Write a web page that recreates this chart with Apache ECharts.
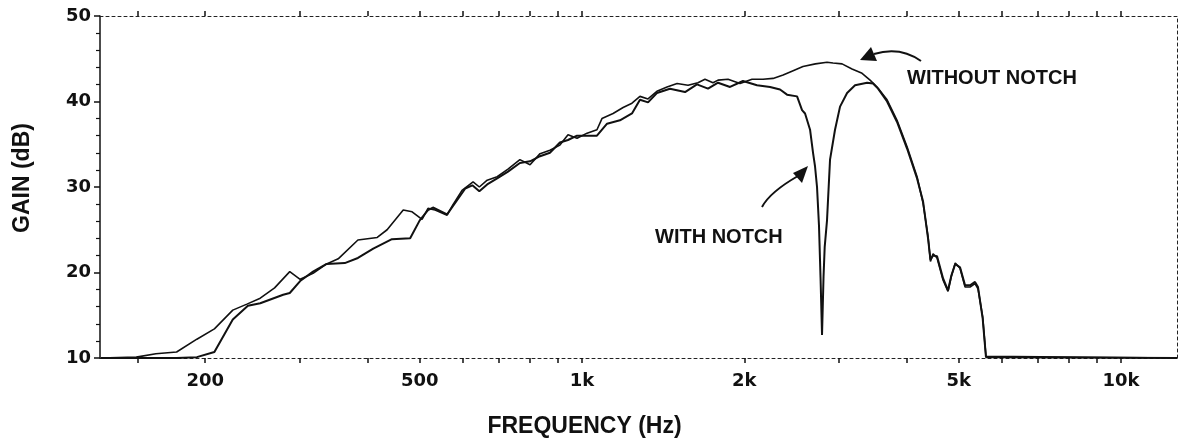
<!DOCTYPE html>
<html>
<head>
<meta charset="utf-8">
<script src="https://cdn.jsdelivr.net/npm/echarts@6/dist/echarts.min.js"></script>
<style>
html, body { margin: 0; padding: 0; background: #fff; }
#chart { width: 1178px; height: 441px; }
</style>
</head>
<body>
<div id="chart"></div>
<script>
// response: frequency (Hz) / gain (dB)
var freqWithout = [128, 149, 162, 177, 193, 208, 225, 239, 253, 269, 287, 300, 317, 336, 353, 384, 417, 435, 466, 484,
    505, 518, 534, 562, 576, 599, 628, 645, 667, 696, 729, 767, 801, 836, 872, 910, 942, 979, 1022, 1066,
    1089, 1142, 1192, 1238, 1281, 1326, 1377, 1438, 1501, 1573, 1641, 1691, 1750, 1788, 1866, 1964, 2067, 2167, 2262, 2361,
    2464, 2570, 2710, 2848, 2922, 3037, 3169, 3308, 3423, 3527, 3681, 3841, 4009, 4184, 4293, 4385, 4430, 4480, 4557, 4676,
    4775, 4842, 4925, 5027, 5136, 5247, 5359, 5428, 5538, 5616, 12700];
var gainWithout = [10.0, 10.1, 10.5, 10.7, 12.2, 13.4, 15.6, 16.3, 17.0, 18.2, 20.1, 19.2, 19.9, 21.0, 21.6, 23.8, 24.1, 25.0, 27.3, 27.1,
    26.2, 27.5, 27.3, 26.7, 27.9, 29.6, 30.6, 30.0, 30.8, 31.2, 32.1, 33.2, 32.6, 33.9, 34.3, 34.9, 36.1, 35.7, 36.3, 36.7,
    38.0, 38.6, 39.3, 39.8, 40.6, 40.3, 41.2, 41.7, 42.1, 41.9, 42.2, 42.6, 42.2, 42.5, 42.6, 42.1, 42.6, 42.6, 42.7, 43.1,
    43.6, 44.1, 44.4, 44.6, 44.5, 44.4, 43.8, 43.3, 42.5, 41.7, 40.2, 37.8, 34.7, 31.2, 28.1, 24.2, 21.3, 22.2, 21.7, 19.1,
    17.8, 19.5, 21.1, 20.5, 18.3, 18.3, 18.7, 18.1, 14.8, 10.2, 10.0];

var freqWith = [128, 177, 193, 208, 225, 240, 253, 279, 287, 300, 317, 336, 363, 384, 410, 444, 480, 500, 518, 529,
    562, 607, 626, 645, 667, 696, 729, 767, 801, 836, 872, 910, 942, 979, 1022, 1066, 1113, 1176, 1238, 1281,
    1326, 1377, 1456, 1553, 1634, 1713, 1788, 1882, 1989, 2112, 2233, 2330, 2401, 2506, 2560, 2593, 2649, 2683, 2706, 2729,
    2752, 2770, 2788, 2806, 2820, 2848, 2885, 2947, 3011, 3103, 3210, 3380, 3467, 3542, 3681, 3841, 4009, 4184, 4293, 4385,
    4430, 4480, 4557, 4676, 4775, 4842, 4925, 5027, 5136, 5247, 5359, 5428, 5538, 5616, 12700];
var gainWith = [10.0, 10.0, 10.1, 10.7, 14.5, 16.1, 16.4, 17.4, 17.6, 19.0, 20.1, 21.0, 21.1, 21.7, 22.8, 23.9, 24.0, 26.1, 27.3, 27.6,
    26.8, 29.8, 30.2, 29.5, 30.3, 31.0, 31.8, 32.8, 33.0, 33.6, 34.0, 35.2, 35.5, 36.0, 36.0, 36.0, 37.4, 37.8, 38.6, 40.2,
    39.9, 41.0, 41.5, 41.1, 42.0, 41.5, 42.2, 41.7, 42.4, 41.9, 41.7, 41.4, 40.8, 40.6, 39.0, 38.6, 36.7, 34.0, 32.4, 30.0,
    25.5, 19.5, 12.7, 19.5, 23.0, 26.1, 33.2, 36.7, 39.4, 41.0, 41.9, 42.2, 42.1, 41.5, 40.0, 37.6, 34.5, 31.0, 28.3, 24.0,
    21.5, 22.0, 21.9, 19.3, 17.9, 19.6, 21.0, 20.6, 18.5, 18.5, 18.9, 18.3, 14.6, 10.1, 10.0];

var tickFreqs = [150, 200, 300, 400, 500, 600, 700, 800, 900, 1000, 2000, 3000, 4000, 5000, 6000, 7000, 8000, 9000, 10000];
var labelFreqs = [200, 500, 1000, 2000, 5000, 10000];
var freqMin = 127.6, freqMax = 12700;
var gainMin = 10, gainMax = 50, gainStep = 10;

function zip(xs, ys) {
    return xs.map(function (x, i) { return [x, ys[i]]; });
}

var chart = echarts.init(document.getElementById('chart'));
var dashed = { color: '#222', width: 1, type: [3, 3] };

var option = {
    animation: false,
    grid: { left: 100, right: 1, top: 16, bottom: 83, outerBoundsMode: 'none' },
    xAxis: [{
        type: 'log',
        logBase: 10,
        min: freqMin,
        max: freqMax,
        position: 'bottom',
        name: 'FREQUENCY (Hz)',
        nameLocation: 'middle',
        nameGap: 57,
        nameTextStyle: { fontFamily: 'Liberation Sans', fontWeight: 'bold', fontSize: 23, color: '#111', padding: [0, 108, 0, 0] },
        axisLine: { lineStyle: dashed },
        axisTick: { show: true, inside: false, length: 5, customValues: tickFreqs, lineStyle: { color: '#111', width: 1.5 } },
        minorTick: { show: false },
        axisLabel: {
            customValues: labelFreqs,
            margin: 14,
            fontFamily: 'DejaVu Sans', fontWeight: 'bold', fontSize: 18, color: '#111',
            formatter: function (v) { return v >= 1000 ? (v / 1000) + 'k' : String(v); }
        },
        splitLine: { show: false }
    }, {
        type: 'log',
        logBase: 10,
        min: freqMin,
        max: freqMax,
        position: 'top',
        axisLine: { lineStyle: dashed },
        axisTick: { show: true, inside: false, length: 5, customValues: tickFreqs, lineStyle: { color: '#111', width: 1.5 } },
        axisLabel: { show: false },
        splitLine: { show: false }
    }],
    yAxis: [{
        type: 'value',
        min: gainMin,
        max: gainMax,
        interval: gainStep,
        position: 'left',
        name: 'GAIN (dB)',
        nameLocation: 'middle',
        nameGap: 66,
        nameTextStyle: { fontFamily: 'Liberation Sans', fontWeight: 'bold', fontSize: 23, color: '#111', padding: [0, 0, 0, 18] },
        axisLine: { show: true, lineStyle: { color: '#111', width: 1.5 } },
        axisTick: { show: true, inside: false, length: 6, lineStyle: { color: '#111', width: 1.5 } },
        minorTick: { show: true, splitNumber: 5, length: 4, lineStyle: { color: '#111', width: 1.2 } },
        axisLabel: { margin: 9, fontFamily: 'DejaVu Sans', fontWeight: 'bold', fontSize: 18, color: '#111' },
        splitLine: { show: false }
    }, {
        type: 'value',
        min: gainMin,
        max: gainMax,
        interval: gainStep,
        position: 'right',
        axisLine: { show: true, lineStyle: dashed },
        axisTick: { show: false },
        axisLabel: { show: false },
        splitLine: { show: false }
    }],
    series: [{
        name: 'WITHOUT NOTCH',
        type: 'line',
        data: zip(freqWithout, gainWithout),
        showSymbol: false,
        lineStyle: { color: '#111', width: 1.6 }
    }, {
        name: 'WITH NOTCH',
        type: 'line',
        data: zip(freqWith, gainWith),
        showSymbol: false,
        lineStyle: { color: '#111', width: 2 }
    }],
    graphic: [
        { type: 'bezierCurve', shape: { x1: 921, y1: 61, cpx1: 900, cpy1: 46, x2: 874, y2: 54 }, style: { stroke: '#111', lineWidth: 2, fill: null } },
        { type: 'polygon', shape: { points: [[860, 60], [871, 47], [877, 61]] }, style: { fill: '#111' } },
        { type: 'bezierCurve', shape: { x1: 762, y1: 207, cpx1: 770, cpy1: 192, x2: 798, y2: 176 }, style: { stroke: '#111', lineWidth: 2, fill: null } },
        { type: 'polygon', shape: { points: [[808, 166], [793, 173], [802, 183]] }, style: { fill: '#111' } },
        { type: 'text', left: 907, top: 68, style: { text: 'WITHOUT NOTCH', font: 'bold 20px "Liberation Sans"', fill: '#111' } },
        { type: 'text', left: 655, top: 227, style: { text: 'WITH NOTCH', font: 'bold 20px "Liberation Sans"', fill: '#111' } }
    ]
};

chart.setOption(option);
</script>
</body>
</html>
